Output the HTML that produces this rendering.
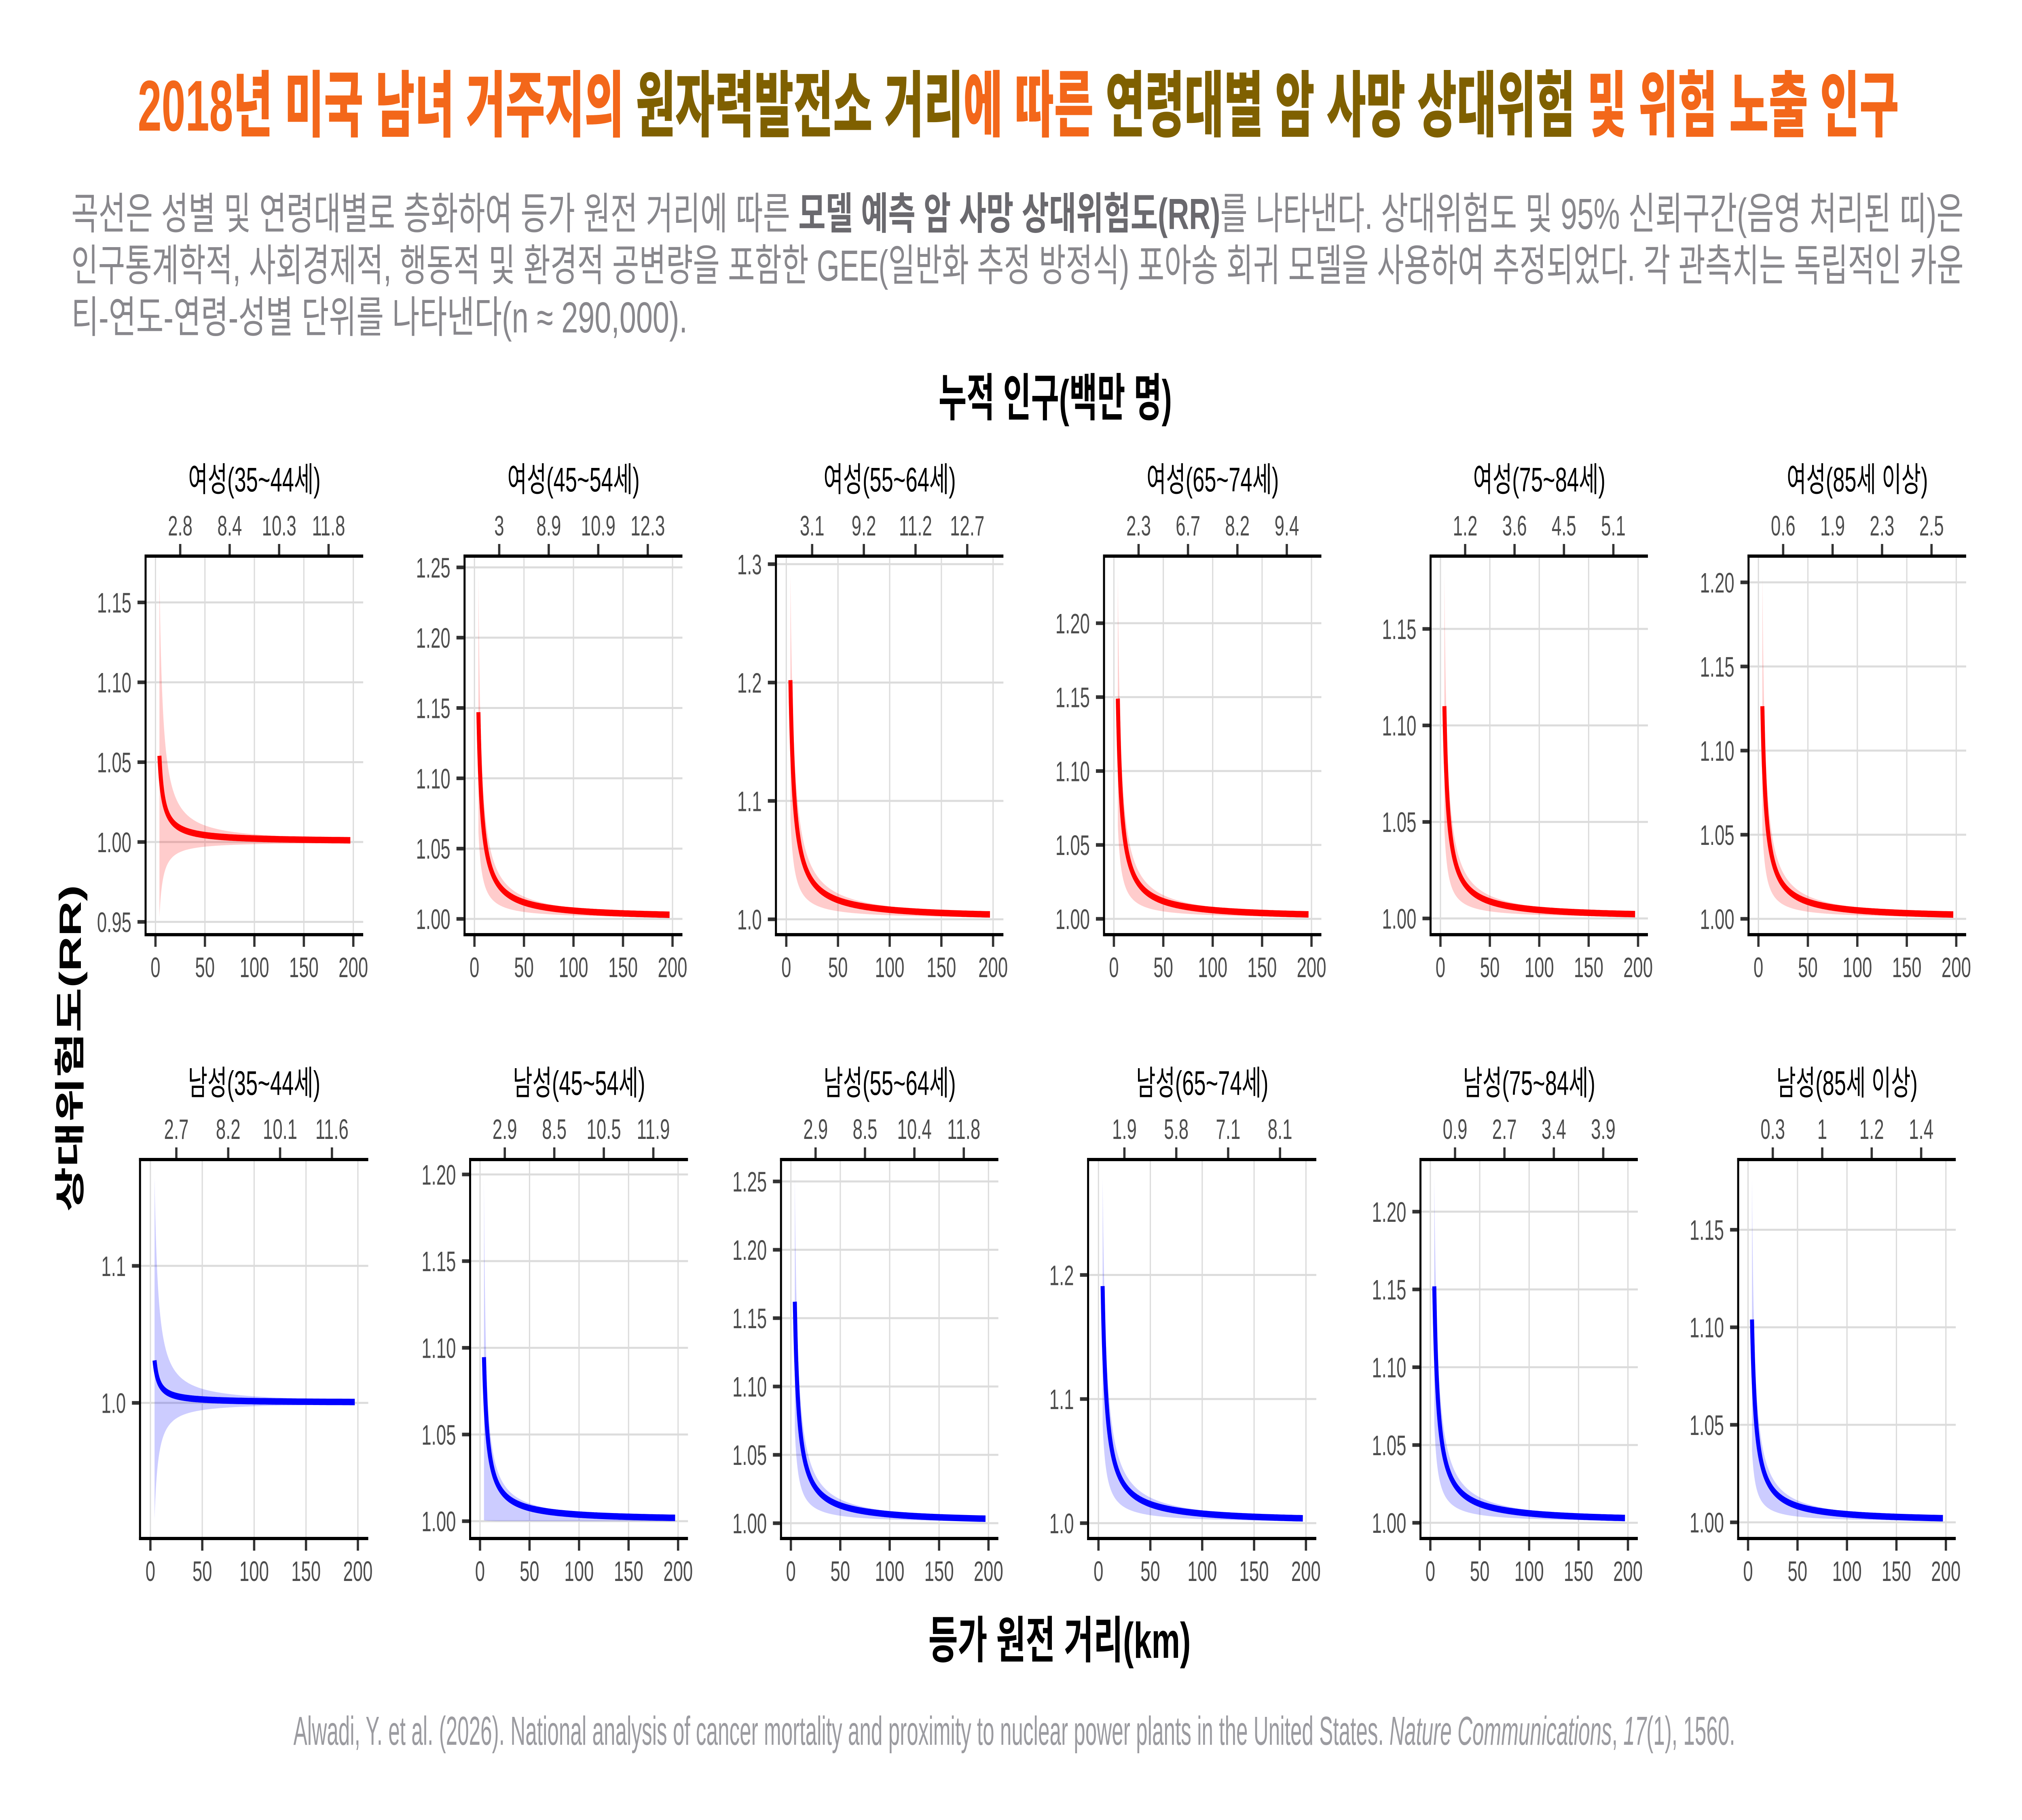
<!DOCTYPE html>
<html><head><meta charset="utf-8">
<style>
html,body{margin:0;padding:0;background:#fff;width:100%;height:100%;overflow:hidden}
svg.main{display:block;position:fixed;left:0;top:0;width:100%;height:100%}
.tt{font-family:"Liberation Sans","Noto Sans CJK KR",sans-serif;font-size:84px;fill:#000;text-anchor:middle}
.tx{font-family:"Liberation Sans",sans-serif;font-size:70px;fill:#4D4D4D;text-anchor:middle}
.ty{font-family:"Liberation Sans",sans-serif;font-size:70px;fill:#4D4D4D;text-anchor:end}
.kr{font-family:"Liberation Sans","Noto Sans CJK KR",sans-serif}
</style></head>
<body>
<svg class="main" viewBox="0 0 8000 4500" preserveAspectRatio="none" xmlns="http://www.w3.org/2000/svg">
<rect width="8000" height="4500" fill="#fff"/>
<text class="kr" x="545" y="323" font-size="178" font-weight="900" textLength="6968" lengthAdjust="spacingAndGlyphs"><tspan fill="#F3671A">2018년 미국 남녀 거주지의 </tspan><tspan fill="#7F6000">원자력발전소 거리</tspan><tspan fill="#F3671A">에 따른 </tspan><tspan fill="#7F6000">연령대별 암 사망 상대위험</tspan><tspan fill="#F3671A"> 및 위험 노출 인구</tspan></text>
<text class="kr" x="282" y="566" font-size="108" fill="#88878C" textLength="7487" lengthAdjust="spacingAndGlyphs">곡선은 성별 및 연령대별로 층화하여 등가 원전 거리에 따른 <tspan font-weight="700" fill="#6A696E">모델 예측 암 사망 상대위험도(RR)</tspan>를 나타낸다. 상대위험도 및 95% 신뢰구간(음영 처리된 띠)은</text>
<text class="kr" x="282" y="694" font-size="108" fill="#88878C" textLength="7487" lengthAdjust="spacingAndGlyphs">인구통계학적, 사회경제적, 행동적 및 환경적 공변량을 포함한 GEE(일반화 추정 방정식) 포아송 회귀 모델을 사용하여 추정되었다. 각 관측치는 독립적인 카운</text>
<text class="kr" x="282" y="822" font-size="108" fill="#88878C" textLength="2438" lengthAdjust="spacingAndGlyphs">티-연도-연령-성별 단위를 나타낸다(n ≈ 290,000).</text>
<text class="kr" x="4175" y="1028" font-size="126" font-weight="700" fill="#000" text-anchor="middle" textLength="923" lengthAdjust="spacingAndGlyphs">누적 인구(백만 명)</text>
<text class="kr" x="4192" y="4099" font-size="124" font-weight="700" fill="#000" text-anchor="middle" textLength="1038" lengthAdjust="spacingAndGlyphs">등가 원전 거리(km)</text>
<text class="kr" transform="translate(320,2592) rotate(-90)" x="0" y="0" font-size="122" font-weight="700" fill="#000" text-anchor="middle" textLength="808" lengthAdjust="spacingAndGlyphs">상대위험도(RR)</text>
<text x="1161" y="4314" font-family="Liberation Sans, sans-serif" font-size="100" fill="#9B9BA0" textLength="5704" lengthAdjust="spacingAndGlyphs">Alwadi, Y. et al. (2026). National analysis of cancer mortality and proximity to nuclear power plants in the United States. <tspan font-style="italic">Nature Communications</tspan>, <tspan font-style="italic">17</tspan>(1), 1560.</text>

<g id="p1"><text class="tt">여성(35~44세)</text><text class="tx">2.8</text><text class="tx">8.4</text><text class="tx">10.3</text><text class="tx">11.8</text><text class="tx">0</text><text class="tx">50</text><text class="tx">100</text><text class="tx">150</text><text class="tx">200</text><text class="ty">0.95</text><text class="ty">1.00</text><text class="ty">1.05</text><text class="ty">1.10</text><text class="ty">1.15</text></g>
<g id="p2"><text class="tt">여성(45~54세)</text><text class="tx">3</text><text class="tx">8.9</text><text class="tx">10.9</text><text class="tx">12.3</text><text class="tx">0</text><text class="tx">50</text><text class="tx">100</text><text class="tx">150</text><text class="tx">200</text><text class="ty">1.00</text><text class="ty">1.05</text><text class="ty">1.10</text><text class="ty">1.15</text><text class="ty">1.20</text><text class="ty">1.25</text></g>
<g id="p3"><text class="tt">여성(55~64세)</text><text class="tx">3.1</text><text class="tx">9.2</text><text class="tx">11.2</text><text class="tx">12.7</text><text class="tx">0</text><text class="tx">50</text><text class="tx">100</text><text class="tx">150</text><text class="tx">200</text><text class="ty">1.0</text><text class="ty">1.1</text><text class="ty">1.2</text><text class="ty">1.3</text></g>
<g id="p4"><text class="tt">여성(65~74세)</text><text class="tx">2.3</text><text class="tx">6.7</text><text class="tx">8.2</text><text class="tx">9.4</text><text class="tx">0</text><text class="tx">50</text><text class="tx">100</text><text class="tx">150</text><text class="tx">200</text><text class="ty">1.00</text><text class="ty">1.05</text><text class="ty">1.10</text><text class="ty">1.15</text><text class="ty">1.20</text></g>
<g id="p5"><text class="tt">여성(75~84세)</text><text class="tx">1.2</text><text class="tx">3.6</text><text class="tx">4.5</text><text class="tx">5.1</text><text class="tx">0</text><text class="tx">50</text><text class="tx">100</text><text class="tx">150</text><text class="tx">200</text><text class="ty">1.00</text><text class="ty">1.05</text><text class="ty">1.10</text><text class="ty">1.15</text></g>
<g id="p6"><text class="tt">여성(85세 이상)</text><text class="tx">0.6</text><text class="tx">1.9</text><text class="tx">2.3</text><text class="tx">2.5</text><text class="tx">0</text><text class="tx">50</text><text class="tx">100</text><text class="tx">150</text><text class="tx">200</text><text class="ty">1.00</text><text class="ty">1.05</text><text class="ty">1.10</text><text class="ty">1.15</text><text class="ty">1.20</text></g>
<g id="p7"><text class="tt">남성(35~44세)</text><text class="tx">2.7</text><text class="tx">8.2</text><text class="tx">10.1</text><text class="tx">11.6</text><text class="tx">0</text><text class="tx">50</text><text class="tx">100</text><text class="tx">150</text><text class="tx">200</text><text class="ty">1.0</text><text class="ty">1.1</text></g>
<g id="p8"><text class="tt">남성(45~54세)</text><text class="tx">2.9</text><text class="tx">8.5</text><text class="tx">10.5</text><text class="tx">11.9</text><text class="tx">0</text><text class="tx">50</text><text class="tx">100</text><text class="tx">150</text><text class="tx">200</text><text class="ty">1.00</text><text class="ty">1.05</text><text class="ty">1.10</text><text class="ty">1.15</text><text class="ty">1.20</text></g>
<g id="p9"><text class="tt">남성(55~64세)</text><text class="tx">2.9</text><text class="tx">8.5</text><text class="tx">10.4</text><text class="tx">11.8</text><text class="tx">0</text><text class="tx">50</text><text class="tx">100</text><text class="tx">150</text><text class="tx">200</text><text class="ty">1.00</text><text class="ty">1.05</text><text class="ty">1.10</text><text class="ty">1.15</text><text class="ty">1.20</text><text class="ty">1.25</text></g>
<g id="p10"><text class="tt">남성(65~74세)</text><text class="tx">1.9</text><text class="tx">5.8</text><text class="tx">7.1</text><text class="tx">8.1</text><text class="tx">0</text><text class="tx">50</text><text class="tx">100</text><text class="tx">150</text><text class="tx">200</text><text class="ty">1.0</text><text class="ty">1.1</text><text class="ty">1.2</text></g>
<g id="p11"><text class="tt">남성(75~84세)</text><text class="tx">0.9</text><text class="tx">2.7</text><text class="tx">3.4</text><text class="tx">3.9</text><text class="tx">0</text><text class="tx">50</text><text class="tx">100</text><text class="tx">150</text><text class="tx">200</text><text class="ty">1.00</text><text class="ty">1.05</text><text class="ty">1.10</text><text class="ty">1.15</text><text class="ty">1.20</text></g>
<g id="p12"><text class="tt">남성(85세 이상)</text><text class="tx">0.3</text><text class="tx">1</text><text class="tx">1.2</text><text class="tx">1.4</text><text class="tx">0</text><text class="tx">50</text><text class="tx">100</text><text class="tx">150</text><text class="tx">200</text><text class="ty">1.00</text><text class="ty">1.05</text><text class="ty">1.10</text><text class="ty">1.15</text></g>
</svg>
<script>
(function(){
var NS='http://www.w3.org/2000/svg';
function mk(t,a,p){var e=document.createElementNS(NS,t);for(var k in a)e.setAttribute(k,a[k]);if(p)p.appendChild(e);return e;}
var RED='#FF0000',BLUE='#0000FF';
var P=[
[576,1437,1375,2311,1.179,0.942,1.054,1.167,0.953,1,RED],
[1838,2700,1375,2311,1.258,0.9888,1.147,1.246,1.062,0,RED],
[3070,3970,1375,2311,1.3068,0.987,1.202,1.292,1.085,0,RED],
[4368,5228,1375,2311,1.2454,0.9893,1.149,1.234,1.063,0,RED],
[5660,6520,1375,2311,1.1877,0.9916,1.110,1.179,1.046,0,RED],
[6918,7779,1375,2311,1.2156,0.9906,1.1264,1.205,1.053,0,RED],
[554,1457,2867,3804,1.1776,0.901,1.031,1.165,0.915,1,BLUE],
[1860,2722,2867,3804,1.2086,0.990,1.0946,1.199,1.0005,0,BLUE],
[3090,3950,2867,3804,1.266,0.9888,1.162,1.253,1.068,0,BLUE],
[4305,5208,2867,3804,1.293,0.9876,1.191,1.279,1.08,0,BLUE],
[5620,6480,2867,3804,1.2335,0.9899,1.152,1.2224,1.064,0,BLUE],
[6877,7738,2867,3804,1.186,0.9917,1.104,1.177,1.037,0,BLUE]
];
var d0=4,d1=197;
P.forEach(function(c,i){
  var L=c[0],R=c[1],T=c[2],B=c[3],top=c[4],bot=c[5],S=c[6],U=c[7],L0=c[8],sym=c[9],col=c[10];
  var g=document.getElementById('p'+(i+1));
  function xs(d){return L+(d+10)/220*(R-L);}
  function ys(v){return T+(top-v)/(top-bot)*(B-T);}
  var bg=mk('g',{},null); g.insertBefore(bg,g.firstChild);
  var tx=g.getElementsByTagName('text');
  tx[0].setAttribute('x',(L+R)/2); tx[0].setAttribute('y',T-160);
  var tops=[25,75,125,175],j;
  for(j=0;j<4;j++){tx[1+j].setAttribute('x',xs(tops[j]));tx[1+j].setAttribute('y',T-51);}
  for(j=0;j<5;j++){tx[5+j].setAttribute('x',xs(50*j));tx[5+j].setAttribute('y',B+105);}
  var yv=[];
  for(j=10;j<tx.length;j++){var v=parseFloat(tx[j].textContent);yv.push(v);tx[j].setAttribute('x',L-56);tx[j].setAttribute('y',ys(v)+25);}
  for(j=0;j<=4;j++){var x=xs(50*j);mk('line',{x1:x,x2:x,y1:T,y2:B,stroke:'#DCDCDC','stroke-width':5},bg);}
  yv.forEach(function(v){var y=ys(v);mk('line',{x1:L,x2:R,y1:y,y2:y,stroke:'#DCDCDC','stroke-width':5},bg);});
  function line(d){return 1+(S-1)*(d0/d);}
  function up(d){var r=d0/d; if(sym) return 1+(U-1)*Math.pow(r,1.1); var a=1.35*(S-1); return 1+a*r+(U-1-a)*Math.pow(r,4);}
  function lo(d){var r=d0/d; if(sym) return 1+(L0-1)*Math.pow(r,1.1); return 1+(L0-1)*r;}
  var N=400,pu=[],pl=[],pm=[];
  for(j=0;j<=N;j++){var d=d0*Math.pow(d1/d0,j/N);var x=xs(d).toFixed(1);
    pu.push(x+','+ys(up(d)).toFixed(1));pl.push(x+','+ys(lo(d)).toFixed(1));pm.push(x+','+ys(line(d)).toFixed(1));}
  pl.reverse();
  mk('path',{d:'M'+pu.join('L')+'L'+pl.join('L')+'Z',fill:col,'fill-opacity':0.2,stroke:'none'},bg);
  mk('path',{d:'M'+pm.join('L'),fill:'none',stroke:col,'stroke-width':16,'stroke-linejoin':'round','stroke-linecap':'butt'},bg);
  mk('line',{x1:L-4,x2:R,y1:T,y2:T,stroke:'#000','stroke-width':8},bg);
  mk('line',{x1:L-4,x2:R,y1:B,y2:B,stroke:'#000','stroke-width':8},bg);
  mk('line',{x1:L,x2:L,y1:T-4,y2:B+4,stroke:'#000','stroke-width':8},bg);
  for(j=0;j<4;j++){var x2=xs(tops[j]);mk('line',{x1:x2,x2:x2,y1:T-30,y2:T-4,stroke:'#333','stroke-width':9},bg);}
  for(j=0;j<=4;j++){var x3=xs(50*j);mk('line',{x1:x3,x2:x3,y1:B+4,y2:B+30,stroke:'#333','stroke-width':9},bg);}
  yv.forEach(function(v){var y=ys(v);mk('line',{x1:L-32,x2:L-4,y1:y,y2:y,stroke:'#333','stroke-width':9},bg);});
});
})();
</script>
</body></html>
